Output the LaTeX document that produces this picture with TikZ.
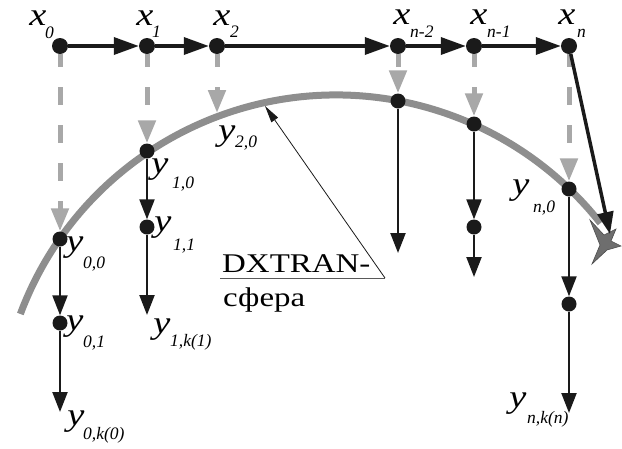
\documentclass[tikz,border=0pt]{standalone}
\usepackage{fontspec}
\setmainfont{Liberation Serif}
\usetikzlibrary{arrows.meta}
\definecolor{dgray}{HTML}{A8A8A8}
\definecolor{arcgray}{HTML}{8E8E8E}
\definecolor{stargray}{HTML}{6E6E6E}
\definecolor{ink}{HTML}{1A1A1A}
\newcommand{\wideit}[1]{\scalebox{1.2}[1]{#1}}
\begin{document}
\begin{tikzpicture}[x=1pt,y=1pt,
  bigdot/.style={circle,fill=ink,inner sep=0pt,minimum size=16pt},
  smalldot/.style={circle,fill=ink,inner sep=0pt,minimum size=15pt},
  chainarrow/.style={line width=3.5pt,draw=ink,-{Triangle[length=25pt,width=17pt]}},
  brancharrow/.style={line width=2.2pt,draw=ink,-{Triangle[length=20pt,width=15pt]}},
  projarrow/.style={line width=5pt,draw=dgray,dash pattern=on 18pt off 20pt,dash phase=5pt,-{Triangle[length=23pt,width=17pt]}},
  lbl/.style={inner sep=0pt,font=\fontsize{32}{32}\selectfont\itshape},
  subl/.style={inner sep=0pt,anchor=base west,font=\fontsize{17.5}{17.5}\selectfont\itshape},
  txt/.style={inner sep=0pt,anchor=base west,font=\fontsize{27}{27}\selectfont},
]
\useasboundingbox (0,0) rectangle (622,-448);

% sphere arc
\draw[arcgray,line width=7pt] ([shift={(159.5:337pt)}]336,-432) arc[start angle=159.5,end angle=38.3,radius=337pt];

% top chain nodes
\node[bigdot] (x0) at (60,-46) {};
\node[bigdot] (x1) at (147,-46) {};
\node[bigdot] (x2) at (217,-46) {};
\node[bigdot] (xn2) at (398,-46) {};
\node[bigdot] (xn1) at (474,-46) {};
\node[bigdot] (xn) at (569,-46) {};

% sphere points
\node[smalldot] (y00) at (60,-239) {};
\node[smalldot] (y01) at (60,-323) {};
\coordinate (e0) at (60,-412);
\node[smalldot] (y10) at (147,-151) {};
\node[smalldot] (y11) at (147,-227) {};
\coordinate (e1) at (147,-315);
\coordinate (y20) at (217,-113);
\node[smalldot] (yn2) at (398,-101) {};
\coordinate (en2) at (398,-253);
\node[smalldot] (yn1) at (474,-124) {};
\node[smalldot] (yn1b) at (474,-227) {};
\coordinate (en1) at (474,-277);
\node[smalldot] (yn0) at (569,-189) {};
\node[smalldot] (yn0b) at (569,-304) {};
\coordinate (en) at (569,-413);
\coordinate (hit) at (610,-234);

% projections
\draw[projarrow] (x0) -- (y00);
\draw[projarrow] (x1) -- (y10);
\draw[projarrow] (x2) -- (y20);
\draw[projarrow] (xn2) -- (yn2);
\draw[projarrow] (xn1) -- (yn1);
\draw[projarrow] (xn) -- (yn0);

% chain
\draw[chainarrow] (x0) -- (x1);
\draw[chainarrow] (x1) -- (x2);
\draw[chainarrow] (x2) -- (xn2);
\draw[chainarrow] (xn2) -- (xn1);
\draw[chainarrow] (xn1) -- (xn);

% branches
\draw[brancharrow] (y00) -- (y01);
\draw[brancharrow] (y01) -- (e0);
\draw[brancharrow] (y10) -- (y11);
\draw[brancharrow] (y11) -- (e1);
\draw[brancharrow] (yn2) -- (en2);
\draw[brancharrow] (yn1) -- (yn1b);
\draw[brancharrow] (yn1b) -- (en1);
\draw[brancharrow] (yn0) -- (yn0b);
\draw[brancharrow] (yn0b) -- (en);

% star
\draw[fill=stargray,draw=black!70,line width=0.6pt,line join=miter]
  (590,-220) -- (604,-235) -- (616,-229) -- (611,-241) -- (621,-246) -- (607,-250) -- (592,-264) -- (600,-245) -- cycle;
\draw[line width=3.5pt,draw=ink,-{Triangle[length=22pt,width=16pt]}] (xn) -- (hit);

% labels top
\node[lbl] (lx0) at (38,-18) {\wideit{x}};
\node[subl] (sx0) at (45,-38) {0};
\node[lbl] (lx1) at (145,-18) {\wideit{x}};
\node[subl] (sx1) at (152,-37) {1};
\node[lbl] (lx2) at (222,-18) {\wideit{x}};
\node[subl] (sx2) at (230,-37) {2};
\node[lbl] (lxn2) at (402,-17) {\wideit{x}};
\node[subl] (sxn2) at (410,-37) {n-2};
\node[lbl] (lxn1) at (479,-17) {\wideit{x}};
\node[subl] (sxn1) at (487,-37) {n-1};
\node[lbl] (lxn) at (567,-17) {\wideit{x}};
\node[subl] (sxn) at (577,-37) {n};

% labels y
\node[lbl] (ly20) at (227,-137) {\wideit{y}};
\node[subl] (sy20) at (235,-147) {2,0};
\node[lbl] (ly10) at (160,-170) {\wideit{y}};
\node[subl] (sy10) at (172,-188) {1,0};
\node[lbl] (ly11) at (163,-228) {\wideit{y}};
\node[subl] (sy11) at (173,-250) {1,1};
\node[lbl] (ly1k) at (162,-330) {\wideit{y}};
\node[subl] (sy1k) at (170,-346) {1,k(1)};
\node[lbl] (ly00) at (75,-248) {\wideit{y}};
\node[subl] (sy00) at (83,-268) {0,0};
\node[lbl] (ly01) at (75,-327) {\wideit{y}};
\node[subl] (sy01) at (83,-347) {0,1};
\node[lbl] (ly0k) at (76,-422) {\wideit{y}};
\node[subl] (sy0k) at (83,-439) {0,k(0)};
\node[lbl] (lyn0) at (521,-191) {\wideit{y}};
\node[subl] (syn0) at (533,-212) {n,0};
\node[lbl] (lynk) at (518,-404) {\wideit{y}};
\node[subl] (synk) at (527,-423) {n,k(n)};

% DXTRAN label
\node[txt] (dx) at (222,-272) {\scalebox{1.22}[1]{DXTRAN-}};
\node[txt] (sf) at (223,-306) {\scalebox{1.22}[1]{сфера}};
\coordinate (corner) at (385,-278);
\coordinate (ulstart) at (220,-278);
\coordinate (arcpt) at (265,-106);
\draw[line width=1pt,draw=black!65] (ulstart) -- (corner);
\draw[line width=0.8pt,draw=ink,-{Triangle[length=17pt,width=8pt]}] (corner) -- (arcpt);
\end{tikzpicture}
\end{document}
